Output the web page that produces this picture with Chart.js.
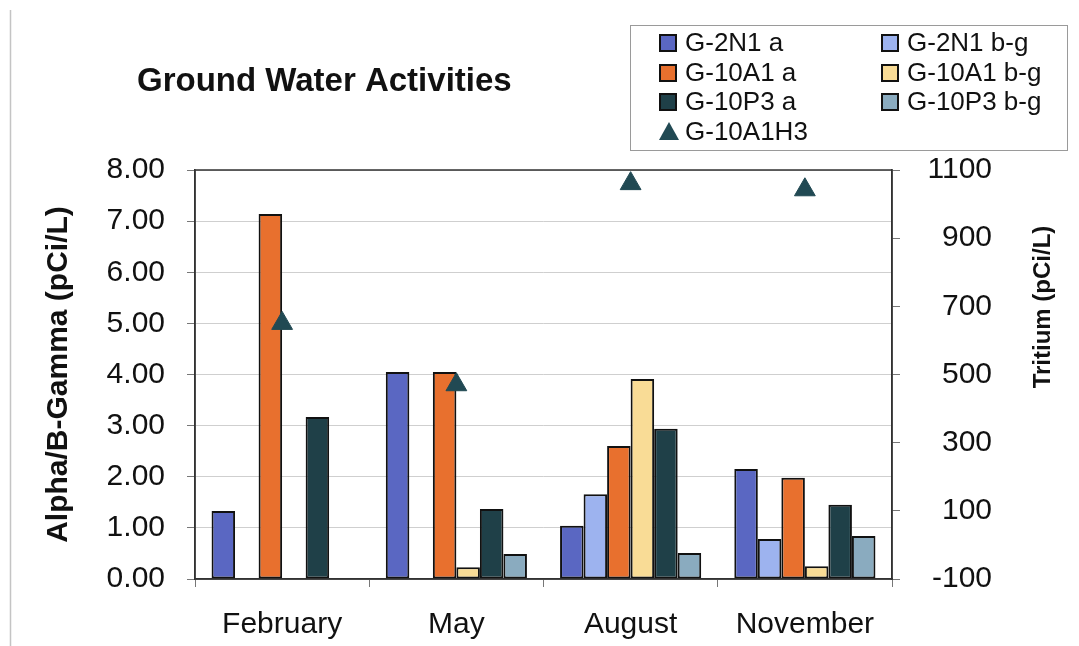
<!DOCTYPE html>
<html>
<head>
<meta charset="utf-8">
<script src="https://cdn.jsdelivr.net/npm/chart.js@4/dist/chart.umd.min.js"></script>
<style>
  html, body { margin: 0; padding: 0; background: #fff; }
  #wrap { width: 1079px; height: 646px; }
</style>
</head>
<body>
<div id="wrap"><canvas id="gw"></canvas></div>
<script>
// sampling dates
const months = ['February', 'May', 'August', 'November'];

// alpha / beta-gamma activities (pCi/L)
const g2n1A   = [1.33, 4.05, 1.04, 2.15];
const g2n1BG  = [null, null, 1.66, 0.78];
const g10a1A  = [7.14, 4.05, 2.60, 1.98];
const g10a1BG = [null, 0.23, 3.91, 0.25];
const g10p3A  = [3.17, 1.37, 2.94, 1.45];
const g10p3BG = [null, 0.49, 0.51, 0.84];

// tritium (pCi/L), right axis
const g10a1H3 = [650, 470, 1060, 1042];

const FONT = '"Liberation Sans", Arial, sans-serif';

function bar(label, data, color) {
    return {
        type: 'bar',
        label: label,
        data: data,
        backgroundColor: color,
        borderColor: '#111',
        borderWidth: 2,
        borderSkipped: false,
        yAxisID: 'y',
        order: 1
    };
}

// title, right-hand axis title, legend box, plot frame
const decor = {
    id: 'decor',
    beforeDraw(chart) {
        const c = chart.ctx;
        c.save();
        c.strokeStyle = '#c4c4c4';
        c.lineWidth = 1.5;
        c.beginPath();
        c.moveTo(10.5, 10);
        c.lineTo(10.5, 646);
        c.stroke();
        c.restore();
    },
    afterDraw(chart) {
        const c = chart.ctx;
        const a = chart.chartArea;
        c.save();

        // plot frame
        c.strokeStyle = '#333';
        c.lineWidth = 1.5;
        c.strokeRect(a.left, a.top, a.right - a.left, a.bottom - a.top);

        // title
        c.fillStyle = '#111';
        c.font = 'bold 33px ' + FONT;
        c.textAlign = 'left';
        c.textBaseline = 'alphabetic';
        c.fillText('Ground Water Activities', 137, 91);

        // right axis title
        c.save();
        c.translate(1050, 307);
        c.rotate(-Math.PI / 2);
        c.font = 'bold 24px ' + FONT;
        c.textAlign = 'center';
        c.textBaseline = 'alphabetic';
        c.fillText('Tritium (pCi/L)', 0, 0);
        c.restore();

        // legend
        c.fillStyle = '#fff';
        c.fillRect(630, 25, 437, 125);
        c.strokeStyle = '#9a9a9a';
        c.lineWidth = 1;
        c.strokeRect(630.5, 25.5, 437, 125);
        c.font = '26px ' + FONT;
        c.textBaseline = 'middle';
        c.textAlign = 'left';
        const cols = [660, 882];
        const rows = [43, 73, 102, 132];
        chart.data.datasets.forEach((ds, i) => {
            let x, y;
            if (ds.type === 'line') { x = cols[0]; y = rows[3]; }
            else { x = cols[i % 2]; y = rows[Math.floor(i / 2)]; }
            if (ds.type === 'line') {
                c.fillStyle = ds.backgroundColor;
                c.beginPath();
                c.moveTo(x + 9, y - 10);
                c.lineTo(x + 19, y + 8);
                c.lineTo(x - 1, y + 8);
                c.closePath();
                c.fill();
            } else {
                c.fillStyle = ds.backgroundColor;
                c.fillRect(x, y - 8, 16, 16);
                c.strokeStyle = '#111';
                c.lineWidth = 2;
                c.strokeRect(x, y - 8, 16, 16);
            }
            c.fillStyle = '#111';
            c.fillText(ds.label, x + 25, y + 1);
        });
        c.restore();
    }
};

new Chart(document.getElementById('gw'), {
    data: {
        labels: months,
        datasets: [
            bar('G-2N1 a', g2n1A, '#5a67c2'),
            bar('G-2N1 b-g', g2n1BG, '#9db3ef'),
            bar('G-10A1 a', g10a1A, '#e8702e'),
            bar('G-10A1 b-g', g10a1BG, '#f9dc96'),
            bar('G-10P3 a', g10p3A, '#1f4048'),
            bar('G-10P3 b-g', g10p3BG, '#8aabbf'),
            {
                type: 'line',
                label: 'G-10A1H3',
                data: g10a1H3,
                yAxisID: 'y2',
                showLine: false,
                pointStyle: 'triangle',
                pointRadius: 12,
                pointHoverRadius: 12,
                backgroundColor: '#214953',
                borderColor: '#214953',
                borderWidth: 1,
                order: 0
            }
        ]
    },
    options: {
        responsive: true,
        maintainAspectRatio: false,
        animation: false,
        layout: { padding: { top: 170, left: 0, right: 87, bottom: 0 } },
        datasets: {
            bar: { categoryPercentage: 0.81, barPercentage: 1.0 }
        },
        plugins: {
            legend: { display: false },
            title: { display: false },
            tooltip: { enabled: false }
        },
        scales: {
            x: {
                offset: true,
                afterFit: s => { s.height = 67; },
                grid: {
                    offset: true,
                    drawOnChartArea: false,
                    tickLength: 8,
                    tickColor: '#777'
                },
                border: { color: '#333', width: 1.5 },
                ticks: {
                    color: '#111',
                    padding: 20,
                    font: { family: FONT, size: 30 }
                }
            },
            y: {
                position: 'left',
                min: 0,
                max: 8,
                afterFit: s => { s.width = 195; },
                grid: {
                    color: '#cfcfcf',
                    lineWidth: 1,
                    tickLength: 8,
                    tickColor: '#777'
                },
                border: { color: '#333', width: 1.5 },
                ticks: {
                    stepSize: 1,
                    color: '#111',
                    padding: 22,
                    font: { family: FONT, size: 30 },
                    callback: v => v.toFixed(2)
                },
                title: {
                    display: true,
                    text: 'Alpha/B-Gamma (pCi/L)',
                    color: '#111',
                    font: { family: FONT, size: 30, weight: 'bold' },
                    padding: { top: 41, bottom: 0 }
                }
            },
            y2: {
                position: 'right',
                min: -100,
                max: 1100,
                afterFit: s => { s.width = 100; },
                grid: {
                    drawOnChartArea: false,
                    tickLength: 8,
                    tickColor: '#777'
                },
                border: { color: '#333', width: 1.5 },
                ticks: {
                    stepSize: 200,
                    color: '#111',
                    padding: 10,
                    crossAlign: 'far',
                    font: { family: FONT, size: 30 },
                    callback: v => String(v)
                }
            }
        }
    },
    plugins: [decor]
});
</script>
</body>
</html>
